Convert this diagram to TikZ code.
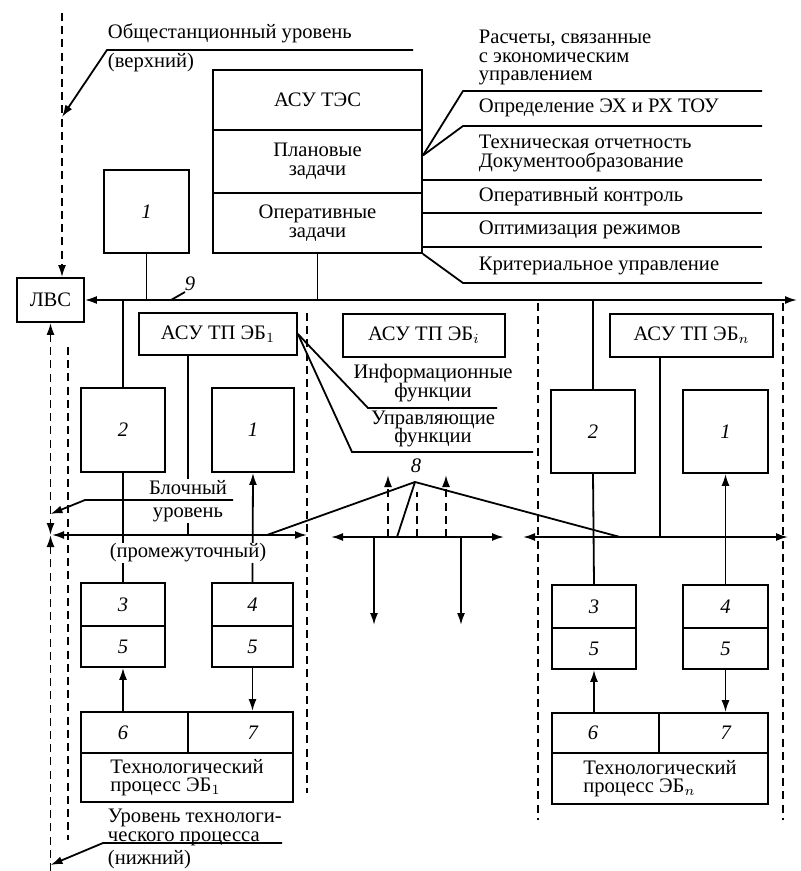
\documentclass[tikz,border=0pt]{standalone}
\usepackage{fontspec}
\setmainfont{Liberation Serif}
\usetikzlibrary{arrows.meta}

\begin{document}
\begin{tikzpicture}[x=0.5pt, y=-0.5pt, line width=0.9pt,
  font={\fontsize{10.3}{9.3}\selectfont\lineskiplimit=-20pt},
  box/.style={draw, inner sep=0pt, align=center},
  arr/.style={-{Latex[length=6pt,width=4pt]}},
  arrs/.style={{Latex[length=6pt,width=4pt]}-{Latex[length=6pt,width=4pt]}},
  dsh/.style={dash pattern=on 4pt off 2.6pt},
  txt/.style={inner sep=0pt, align=left, anchor=west},
  gap/.style={fill=white, inner sep=0.5pt, align=center}]
  \useasboundingbox (0,0) rectangle (800,871);

  % station level
  \node[box, minimum width=104.5pt, minimum height=30pt] (tes) at (317.5,100) {АСУ ТЭС};
  \node[box, minimum width=104.5pt, minimum height=31.5pt] (plan) at (317.5,161.5) {Плановые\\задачи};
  \node[box, minimum width=104.5pt, minimum height=30pt] (oper) at (317.5,223) {Оперативные\\задачи};
  \node[box, minimum width=42.5pt, minimum height=41.5pt] (st1) at (146.5,211.5) {\textit{1}};
  \node[box, minimum width=33.5pt, minimum height=22pt] (lvs) at (50.5,300) {ЛВС};

  \node[txt] (obsh) at (107,33) {Общестанционный уровень};
  \node[txt] (verh) at (107,63) {(верхний)};
  \coordinate (ul) at (413,50);
  \coordinate (topd) at (62,13);
  \draw[dsh, arr] (topd) -- (topd |- lvs.north);
  \draw[arr] (ul) -- (107,50) -- (62,117);

  % task list
  \node[txt] (rasch) at (478,57.5) {Расчеты, связанные\\с экономическим\\управлением};
  \node[txt] (opr) at (478,108) {Определение ЭХ и РХ ТОУ};
  \node[txt] (teh) at (478,153.5) {Техническая отчетность\\Документообразование};
  \node[txt] (opk) at (478,197) {Оперативный контроль};
  \node[txt] (opt) at (478,230) {Оптимизация режимов};
  \node[txt] (krit) at (478,266) {Критериальное управление};
  \foreach \n/\y in {1/91,2/126,3/180,4/213,5/247,6/283}
    \coordinate (l\n) at (762,\y);
  \coordinate (pa) at ([yshift=3pt]plan.east);
  \draw (pa) -- (463,91) -- (l1);
  \draw (pa) -- (463,126) -- (l2);
  \foreach \n in {3,4,5}
    \draw (l\n -| oper.east) -- (l\n);
  \draw (oper.south east) -- (463,283) -- (l6);

  % station bus
  \coordinate (tb) at (797,300);
  \draw[arrs] (lvs.east) -- (tb);
  \draw (st1.south) -- (st1.south |- tb);
  \draw (oper.south) -- (oper.south |- tb);
  \node (n9) at (190,284) {\textit{9}};
  \draw (185,292) -- (171,300);

  % unit level
  \node[box, minimum width=79pt, minimum height=21pt] (eb1) at (218,334) {АСУ ТП ЭБ$_1$};
  \node[box, minimum width=81pt, minimum height=21.5pt] (ebi) at (424,335.5) {АСУ ТП ЭБ$_i$};
  \node[box, minimum width=81.5pt, minimum height=21.5pt] (ebn) at (691.5,335.5) {АСУ ТП ЭБ$_n$};
  \node[inner sep=0pt, align=center] (inf) at (433,383) {Информационные\\функции};
  \node[inner sep=0pt, align=center] (upr) at (433,429) {Управляющие\\функции};
  \draw (eb1.east) -- (368,408) -- (497,408);
  \draw (eb1.east) -- (352,452) -- (533,452);

  \node[box, minimum width=42pt, minimum height=42pt] (b2a) at (123,430) {\textit{2}};
  \node[box, minimum width=41pt, minimum height=42pt] (b1a) at (253,430) {\textit{1}};
  \node[box, minimum width=42pt, minimum height=41.5pt] (b2n) at (593,431.5) {\textit{2}};
  \node[box, minimum width=42.5pt, minimum height=41.5pt] (b1n) at (725.5,431.5) {\textit{1}};

  % process level, unit 1
  \node[box, minimum width=42pt, minimum height=21.5pt] (b3a) at (123,604.5) {\textit{3}};
  \node[box, minimum width=42pt, minimum height=20.5pt] (b5a) at (123,646.5) {\textit{5}};
  \node[box, minimum width=40.5pt, minimum height=21.5pt] (b4a) at (252.5,604.5) {\textit{4}};
  \node[box, minimum width=40.5pt, minimum height=20.5pt] (b5b) at (252.5,646.5) {\textit{5}};
  \node[box, minimum width=53.5pt, minimum height=20.5pt] (b6a) at (134.5,732.5) {};
  \node[box, minimum width=52.5pt, minimum height=20.5pt] (b7a) at (240.5,732.5) {};
  \node (n6a) at (123,732.5) {\textit{6}};
  \node (n7a) at (253,732.5) {\textit{7}};
  \node[box, minimum width=106pt, minimum height=24.5pt, align=left] (tpa) at (187,777.5) {Технологический\\процесс ЭБ$_1$};

  % process level, unit n
  \node[box, minimum width=42pt, minimum height=21.5pt] (b3n) at (594,606.5) {\textit{3}};
  \node[box, minimum width=42pt, minimum height=20.5pt] (b5n) at (594,648.5) {\textit{5}};
  \node[box, minimum width=42.5pt, minimum height=21.5pt] (b4n) at (725.5,606.5) {\textit{4}};
  \node[box, minimum width=42.5pt, minimum height=20.5pt] (b5m) at (725.5,648.5) {\textit{5}};
  \node[box, minimum width=53.5pt, minimum height=20pt] (b6n) at (605.5,733) {};
  \node[box, minimum width=54.5pt, minimum height=20pt] (b7n) at (713.5,733) {};
  \node (n6n) at (593,733) {\textit{6}};
  \node (n7n) at (726,733) {\textit{7}};
  \node[box, minimum width=108pt, minimum height=25.5pt, align=left] (tpn) at (660,778.5) {Технологический\\процесс ЭБ$_n$};

  % unit buses
  \coordinate (lbl) at (52,535);
  \coordinate (lbr) at (307,535);
  \coordinate (mbl) at (331,537);
  \coordinate (mbr) at (504,537);
  \coordinate (rbl) at (523,537);
  \coordinate (rbr) at (788,537);
  \draw[arrs] (lbl) -- (lbr);
  \draw[arrs] (mbl) -- (mbr);
  \draw[arrs] (rbl) -- (rbr);

  \draw (b2a.north) -- (b2a.north |- tb);
  \draw (b2a.south) -- (b3a.north);
  \draw[arr] (b4a.north) -- (b1a.south);
  \draw ([xshift=-15pt]eb1.south) -- ([xshift=-15pt]eb1.south |- lbl);
  \draw[arr] (b6a.north -| b5a.south) -- (b5a.south);
  \draw[arr] (b5b.south) -- (b5b.south |- b7a.north);

  \draw (b2n.north) -- (b2n.north |- tb);
  \draw (b2n.south) -- (b3n.north);
  \draw[arr] (b4n.north) -- (b1n.south);
  \draw ([xshift=-15.75pt]ebn.south) -- ([xshift=-15.75pt]ebn.south |- rbl);
  \draw[arr] (b6n.north -| b5n.south) -- (b5n.south);
  \draw[arr] (b5m.south) -- (b5m.south |- b7n.north);

  % unit i
  \foreach \x in {374,461}
    \draw[arr] (\x,537) -- (\x,625);
  \foreach \x in {388,446}
    \draw[dsh, arr] (\x,537) -- (\x,475);
  \draw[dsh] (417,537) -- (417,492);
  \node (n8) at (416,466) {\textit{8}};
  \coordinate (ap8) at (415,482);
  \draw (267,535) -- (ap8) -- (620,537);
  \draw (ap8) -- (397,537);

  % level borders
  \draw[dsh, arrs] (lvs.south) -- (lvs.south |- lbl);
  \coordinate (bot) at (50.5,871);
  \draw[dsh, arr] (bot) -- (lvs.south |- lbl);
  \foreach \x/\a/\b in {68/347/840, 307/313/793, 538/303/820, 783/303/820}
    \draw[dsh] (\x,\a) -- (\x,\b);

  \node[gap] (blk) at (188,501) {Блочный\\[2pt]уровень};
  \draw[arr] (233,500) -- (85,500) -- (50.5,514);
  \node[gap] (prom) at (188,553) {(промежуточный)};

  \node[txt] (urtp) at (107,827.5) {Уровень технологи-\\ческого процесса};
  \draw[arr] (282,843) -- (103,843) -- (50.5,865);
  \node[txt] (nizh) at (107,860) {(нижний)};
\end{tikzpicture}
\end{document}
